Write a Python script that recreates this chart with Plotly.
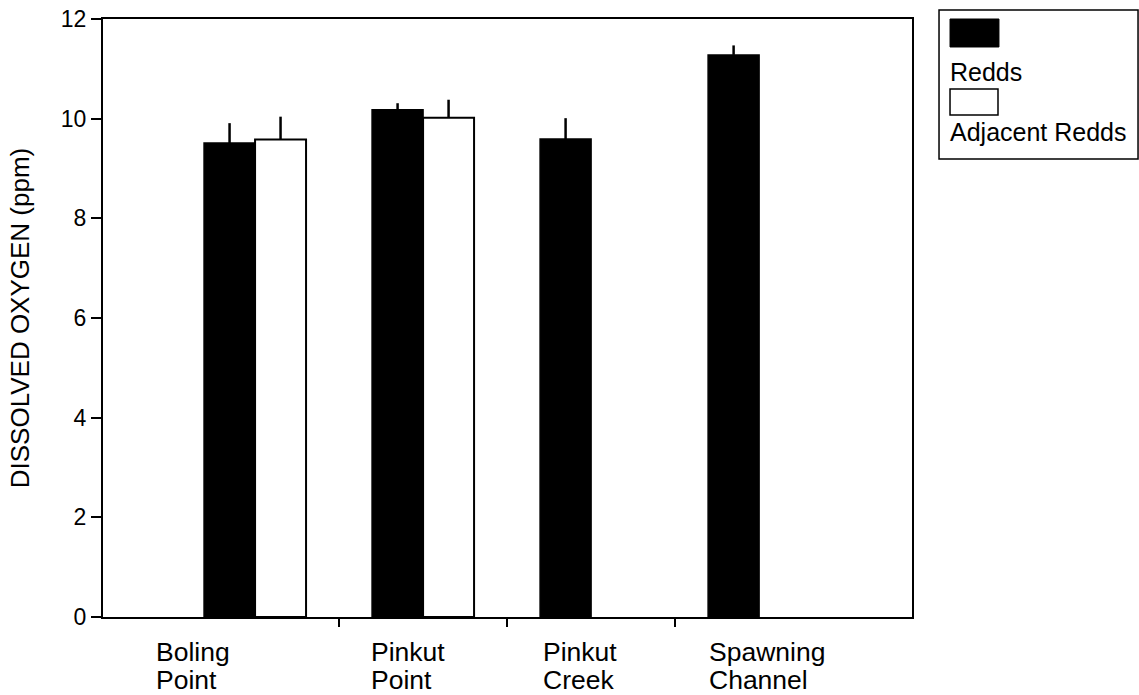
import plotly.graph_objects as go

# ---- data ----
sites = ["Boling Point", "Pinkut Point", "Pinkut Creek", "Spawning Channel"]
site_labels = ["Boling<br>Point", "Pinkut<br>Point", "Pinkut<br>Creek", "Spawning<br>Channel"]
redds = [9.51, 10.18, 9.59, 11.28]
redds_err = [0.40, 0.13, 0.42, 0.19]
adjacent = [9.58, 10.02, None, None]
adjacent_err = [0.46, 0.36, None, None]
y_ticks = [0, 2, 4, 6, 8, 10, 12]

FONT = "Liberation Sans, Arial, Helvetica, sans-serif"
xpos = list(range(len(sites)))

fig = go.Figure()
fig.add_trace(go.Bar(
    name="Redds", x=xpos, y=redds,
    marker=dict(color="black", line=dict(color="black", width=1.5)),
    error_y=dict(type="data", array=redds_err, arrayminus=[0] * len(redds),
                 symmetric=False, color="black", thickness=2.5, width=0),
    showlegend=False,
))
fig.add_trace(go.Bar(
    name="Adjacent Redds", x=xpos, y=adjacent,
    marker=dict(color="white", line=dict(color="black", width=2)),
    error_y=dict(type="data", array=adjacent_err, arrayminus=[0, 0, None, None],
                 symmetric=False, color="black", thickness=2.5, width=0),
    showlegend=False,
))

# category labels (left aligned two-line blocks under each group)
label_shift = [-100, -53, -49, -51]
line_shift = [-19, -47]
for i, lab in enumerate(site_labels):
    for j, part in enumerate(lab.split("<br>")):
        fig.add_annotation(
            x=xpos[i], xref="x", y=0, yref="paper", yshift=line_shift[j], xshift=label_shift[i],
            text=part, showarrow=False, xanchor="left", yanchor="top", align="left",
            borderpad=0, font=dict(family=FONT, size=26.5, color="black"),
        )

# custom legend (swatch above text)
fig.add_shape(type="rect", xref="paper", yref="paper", x0=1.0334, x1=1.2794, y0=0.7659, y1=1.0151,
              line=dict(color="black", width=1.5), fillcolor="white")
fig.add_shape(type="rect", xref="paper", yref="paper", x0=1.0470, x1=1.1075, y0=0.9532, y1=1.0,
              line=dict(color="black", width=1), fillcolor="black")
fig.add_shape(type="rect", xref="paper", yref="paper", x0=1.0470, x1=1.1063, y0=0.8395, y1=0.8829,
              line=dict(color="black", width=1.5), fillcolor="white")
fig.add_annotation(x=1.0445, xref="paper", y=0.912, yref="paper", text="Redds", showarrow=False,
                   xanchor="left", yanchor="middle", font=dict(family=FONT, size=25, color="black"))
fig.add_annotation(x=1.0445, xref="paper", y=0.8107, yref="paper", text="Adjacent Redds", showarrow=False,
                   xanchor="left", yanchor="middle", font=dict(family=FONT, size=25, color="black"))

fig.update_layout(
    width=1139, height=695,
    margin=dict(l=103, r=227, t=19, b=78, autoexpand=False),
    paper_bgcolor="white", plot_bgcolor="white",
    barmode="group", bargap=0.393, bargroupgap=0,
    font=dict(family=FONT, color="black"),
    xaxis=dict(
        range=[-0.905, 3.91], tickvals=[0.5, 1.5, 2.5], ticks="outside", ticklen=8,
        tickwidth=1.5, tickcolor="black", showticklabels=False, showgrid=False,
        zeroline=False, showline=True, linecolor="black", linewidth=2, mirror=True,
    ),
    yaxis=dict(
        range=[0, 12], tickvals=y_ticks, ticks="outside", ticklen=10, tickwidth=1.5,
        tickcolor="black", tickfont=dict(family=FONT, size=23, color="black"),
        showgrid=False, zeroline=False, showline=True, linecolor="black", linewidth=2,
        mirror=True,
        title=dict(text="DISSOLVED OXYGEN (ppm)", font=dict(family=FONT, size=26, color="black"),
                   standoff=24),
    ),
)

fig.write_html("out.html")
